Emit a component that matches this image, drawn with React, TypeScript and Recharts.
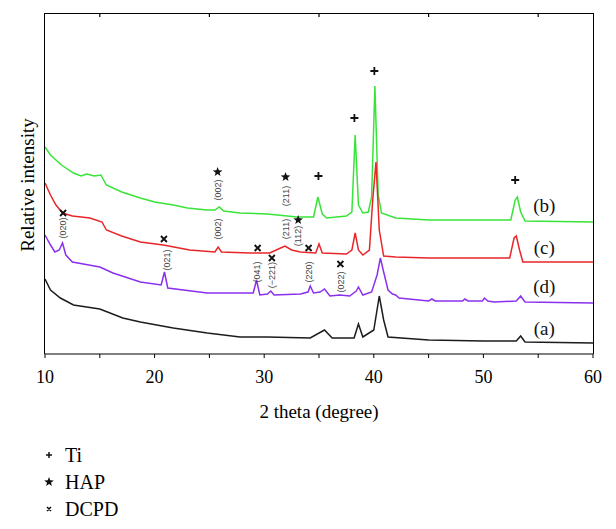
import { ComposedChart, Line, XAxis, YAxis, Scatter } from 'recharts'

// 2θ (degree) vs. relative intensity (arbitrary, curves stacked with offsets)
const curveB: [number, number][] = [
  [10, 207], [10.5, 199], [11.5, 189], [12.6, 181], [13.3, 178], [13.8, 180], [14.5, 178], [15.1, 179],
  [15.6, 169], [17, 162], [18.7, 156], [20, 152], [21.7, 149], [23, 146], [24.8, 144], [25.5, 144],
  [25.9, 147], [26.3, 143], [27.8, 141], [30.3, 140], [33, 137], [34.5, 137], [34.9, 157], [35.3, 140],
  [35.7, 136], [37.5, 138], [38.0, 142], [38.3, 219], [38.6, 149], [39.0, 141], [39.5, 142], [39.8, 157],
  [40.1, 268], [40.4, 159], [40.7, 141], [42, 136], [45, 134], [50, 134], [52.5, 134], [52.9, 154],
  [53.1, 157], [53.4, 142], [53.8, 133], [60, 132],
]
const curveC: [number, number][] = [
  [10, 171], [10.5, 159], [11, 149], [11.6, 141], [12.5, 138], [14.1, 136], [15.2, 132], [15.6, 124],
  [17, 118], [18.7, 112], [20.8, 109], [23.2, 104], [25.5, 102], [25.8, 107], [26.1, 102], [28.7, 101],
  [30.5, 101], [31.5, 106], [31.9, 108], [32.5, 104], [33.3, 102], [34.7, 101], [35.0, 110], [35.3, 101],
  [37.5, 100], [38.0, 104], [38.3, 121], [38.6, 104], [39.0, 99], [39.6, 104], [39.9, 154], [40.2, 192],
  [40.5, 124], [40.9, 98], [42, 97], [45, 96], [50, 96], [52.4, 96], [52.8, 116], [53.0, 118],
  [53.3, 104], [53.6, 92], [60, 92],
]
const curveD: [number, number][] = [
  [10, 119], [10.5, 109], [10.9, 102], [11.3, 104], [11.6, 111], [11.9, 99], [12.5, 92], [15, 87],
  [16.2, 81], [18.7, 72], [20.6, 69], [20.9, 82], [21.2, 66], [24.8, 61], [29.0, 61], [29.3, 74],
  [29.6, 59], [30.3, 60], [30.6, 63], [30.9, 59], [33.3, 60], [34.0, 62], [34.2, 68], [34.5, 61],
  [35.1, 62], [35.5, 65], [36.0, 58], [36.9, 59], [37.8, 58], [38.4, 63], [38.6, 67], [39.0, 59],
  [39.8, 62], [40.3, 79], [40.6, 96], [40.9, 82], [41.3, 64], [41.7, 60], [42, 59], [42.3, 56],
  [45, 53], [45.3, 55], [45.6, 53], [48.1, 53], [48.3, 55], [48.6, 53], [49.9, 53], [50.1, 56],
  [50.4, 53], [51, 52], [53.0, 53], [53.4, 58], [53.8, 52], [60, 51],
]
const curveA: [number, number][] = [
  [10, 75], [10.5, 64], [11.4, 56], [12.6, 49], [15, 45], [17.1, 36], [18.7, 32], [21.7, 26],
  [24.8, 21], [27.8, 17], [30.3, 17], [34.2, 16], [35.5, 24], [36.2, 16], [38.2, 16], [38.6, 30],
  [39.0, 17], [40.0, 24], [40.5, 58], [40.9, 34], [41.3, 17], [45, 14], [50, 13], [53.0, 13],
  [53.4, 18], [53.8, 12], [60, 11],
]

const xTicks = [10, 15, 20, 25, 30, 35, 40, 45, 50, 55, 60]
const topTicks = [15, 25, 35, 45, 55]
const xRange = [10, 60]
const yRange = [0, 340]

// phase markers: + Ti, * HAP, x DCPD
const phaseMarks = [
  { x: 40.05, y: 283, kind: 'Ti' },
  { x: 38.23, y: 236, kind: 'Ti' },
  { x: 34.95, y: 178, kind: 'Ti' },
  { x: 52.9, y: 174, kind: 'Ti' },
  { x: 25.75, y: 182, kind: 'HAP' },
  { x: 31.95, y: 177, kind: 'HAP' },
  { x: 33.1, y: 134, kind: 'HAP' },
  { x: 11.65, y: 141, kind: 'DCPD' },
  { x: 20.85, y: 115, kind: 'DCPD' },
  { x: 29.4, y: 106, kind: 'DCPD' },
  { x: 30.7, y: 96, kind: 'DCPD' },
  { x: 34.05, y: 106, kind: 'DCPD' },
  { x: 36.95, y: 90, kind: 'DCPD' },
]

const hklLabels = [
  { x: 25.75, y: 164, text: '(002)' },
  { x: 31.95, y: 158, text: '(211)' },
  { x: 25.75, y: 125, text: '(002)' },
  { x: 31.95, y: 125, text: '(211)' },
  { x: 33.1, y: 118, text: '(112)' },
  { x: 11.65, y: 126, text: '(020)' },
  { x: 21.1, y: 94, text: '(021)' },
  { x: 29.3, y: 82, text: '(041)' },
  { x: 30.7, y: 79, text: '(−221)' },
  { x: 34.05, y: 82, text: '(220)' },
  { x: 37.05, y: 72, text: '(022)' },
]

const curveLabels = [
  { x: 55.55, y: 149, text: '(b)' },
  { x: 55.55, y: 107, text: '(c)' },
  { x: 55.55, y: 68, text: '(d)' },
  { x: 55.55, y: 26, text: '(a)' },
]

const series = [
  { key: 'b', color: '#38e438', points: curveB },
  { key: 'c', color: '#e8262a', points: curveC },
  { key: 'd', color: '#8a30ee', points: curveD },
  { key: 'a', color: '#1c1c1c', points: curveA },
]

const W = 616
const H = 529
const margin = { top: 14, right: 23, bottom: 145, left: 45 }
const xAxisHeight = 30
// plot box, same numbers the chart uses for its layout
const plot = {
  left: margin.left,
  top: margin.top,
  width: W - margin.left - margin.right,
  height: H - margin.top - margin.bottom - xAxisHeight,
}

const serif = '"Liberation Serif", "DejaVu Serif", serif'

function Mark({ kind, cx, cy }: { kind: string; cx: number; cy: number }) {
  if (kind === 'Ti') {
    return <path d={`M${cx - 4},${cy} H${cx + 4} M${cx},${cy - 4} V${cy + 4}`} stroke="#111" strokeWidth={1.8} />
  }
  if (kind === 'DCPD') {
    return <path d={`M${cx - 3},${cy - 3} L${cx + 3},${cy + 3} M${cx + 3},${cy - 3} L${cx - 3},${cy + 3}`} stroke="#111" strokeWidth={1.8} />
  }
  const pts: string[] = []
  for (let i = 0; i < 10; i++) {
    const r = i % 2 === 0 ? 5 : 2.1
    const a = -Math.PI / 2 + (i * Math.PI) / 5
    pts.push(`${cx + r * Math.cos(a)},${cy + r * Math.sin(a)}`)
  }
  return <polygon points={pts.join(' ')} fill="#111" />
}

export default function App() {
  const tickX = (t: number) => plot.left + ((t - xRange[0]) / (xRange[1] - xRange[0])) * plot.width
  return (
    <div style={{ position: 'relative', width: W, height: H, background: '#fff' }}>
      <style>{'body{margin:0}'}</style>
      <ComposedChart width={W} height={H} margin={margin}>
        <XAxis
          dataKey="x"
          type="number"
          domain={xRange}
          ticks={xTicks}
          tickFormatter={(v: number) => (v % 10 === 0 ? String(v) : '')}
          height={xAxisHeight}
          tickSize={4}
          tickMargin={12}
          stroke="#000"
          tick={{ fill: '#000', fontSize: 18, fontFamily: serif }}
        />
        <YAxis dataKey="y" type="number" domain={yRange} hide />
        {series.map((s) => (
          <Line
            key={s.key}
            data={s.points.map(([x, y]) => ({ x, y }))}
            dataKey="y"
            type="linear"
            stroke={s.color}
            strokeWidth={1.5}
            dot={false}
            isAnimationActive={false}
          />
        ))}
        <Scatter
          data={phaseMarks}
          dataKey="y"
          isAnimationActive={false}
          shape={(p: any) => <Mark kind={p.payload.kind} cx={p.cx} cy={p.cy} />}
        />
        <Scatter
          data={hklLabels}
          dataKey="y"
          isAnimationActive={false}
          shape={(p: any) => (
            <text
              x={p.cx}
              y={p.cy}
              transform={`rotate(-90 ${p.cx} ${p.cy})`}
              textAnchor="middle"
              dominantBaseline="central"
              fontSize={9}
              fontFamily='"Liberation Sans", Arial, sans-serif'
              fill="#444"
            >
              {p.payload.text}
            </text>
          )}
        />
        <Scatter
          data={curveLabels}
          dataKey="y"
          isAnimationActive={false}
          shape={(p: any) => (
            <text x={p.cx} y={p.cy} textAnchor="middle" dominantBaseline="central" fontSize={19} fontFamily={serif} fill="#111">
              {p.payload.text}
            </text>
          )}
        />
      </ComposedChart>
      {/* plot frame as an HTML box */}
      <div
        style={{
          position: 'absolute',
          left: plot.left - 1,
          top: plot.top - 1,
          width: plot.width,
          height: plot.height,
          borderLeft: '1.5px solid #000',
          borderTop: '1.5px solid #000',
          borderRight: '1.5px solid #000',
          pointerEvents: 'none',
        }}
      />
      <svg width={W} height={H} style={{ position: 'absolute', left: 0, top: 0, pointerEvents: 'none' }}>
        {topTicks.map((t) => (
          <line key={t} x1={tickX(t)} x2={tickX(t)} y1={plot.top} y2={plot.top + 3} stroke="#000" strokeWidth={1.2} />
        ))}
        <text x={27} y={185} transform="rotate(-90 27 185)" textAnchor="middle" dominantBaseline="central" fontSize={19} fontFamily={serif}>
          Relative intensity
        </text>
        <text x={319} y={411} textAnchor="middle" dominantBaseline="central" fontSize={19} fontFamily={serif}>
          2 theta (degree)
        </text>
        <path d="M46,455 H52 M49,452 V458" stroke="#111" strokeWidth={1.5} />
        <text x={65} y={455} dominantBaseline="central" fontSize={20} fontFamily={serif}>Ti</text>
        <Mark kind="HAP" cx={49} cy={482} />
        <text x={65} y={482} dominantBaseline="central" fontSize={20} fontFamily={serif}>HAP</text>
        <path d="M47,507 L51,511 M51,507 L47,511" stroke="#111" strokeWidth={1.5} />
        <text x={65} y={509} dominantBaseline="central" fontSize={20} fontFamily={serif}>DCPD</text>
      </svg>
    </div>
  )
}
